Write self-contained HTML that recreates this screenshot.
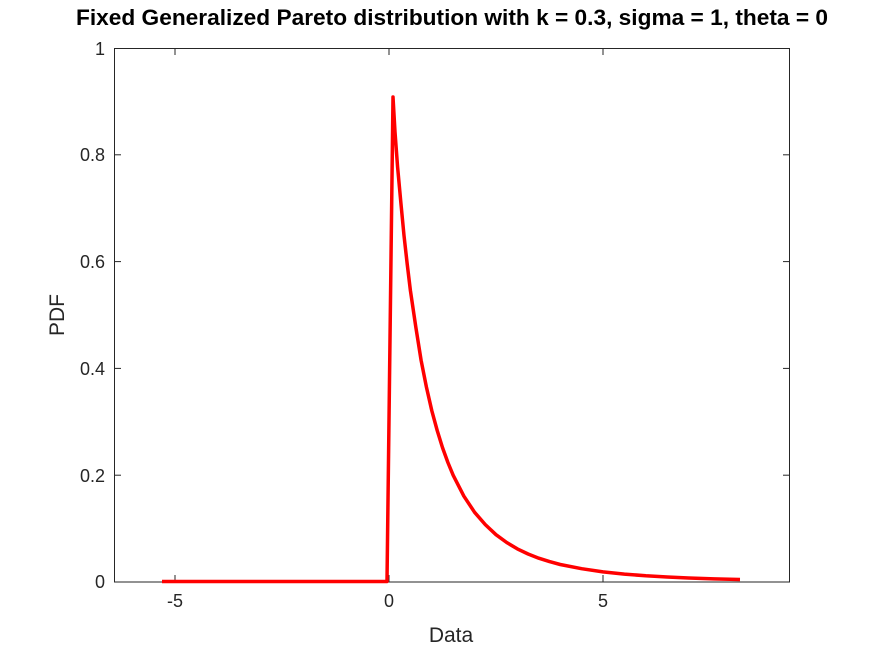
<!DOCTYPE html>
<html><head><style>body{margin:0;background:#fff}svg{display:block}text{font-family:"Liberation Sans",sans-serif;fill:#262626}</style></head>
<body>
<svg width="872" height="654" viewBox="0 0 872 654" xmlns="http://www.w3.org/2000/svg">
<rect width="872" height="654" fill="#fff"/>
<rect x="114.5" y="48.5" width="675" height="533.5" fill="none" stroke="#262626" stroke-width="1"/>
<g stroke="#262626" stroke-width="1">
<line x1="175" y1="582" x2="175" y2="575"/><line x1="389" y1="582" x2="389" y2="575"/><line x1="603" y1="582" x2="603" y2="575"/>
<line x1="175" y1="48" x2="175" y2="55"/><line x1="389" y1="48" x2="389" y2="55"/><line x1="603" y1="48" x2="603" y2="55"/>
<line x1="114" y1="475.2" x2="121" y2="475.2"/><line x1="114" y1="368.4" x2="121" y2="368.4"/><line x1="114" y1="261.6" x2="121" y2="261.6"/><line x1="114" y1="154.8" x2="121" y2="154.8"/>
<line x1="790" y1="475.2" x2="783" y2="475.2"/><line x1="790" y1="368.4" x2="783" y2="368.4"/><line x1="790" y1="261.6" x2="783" y2="261.6"/><line x1="790" y1="154.8" x2="783" y2="154.8"/>
</g>
<g font-size="18" text-anchor="middle">
<text x="175" y="607">-5</text><text x="389" y="607">0</text><text x="603" y="607">5</text>
</g>
<g font-size="18" text-anchor="end">
<text x="105" y="588">0</text><text x="105" y="482">0.2</text><text x="105" y="375">0.4</text><text x="105" y="268">0.6</text><text x="105" y="161">0.8</text><text x="105" y="55">1</text>
</g>
<text x="451" y="642" font-size="21" text-anchor="middle">Data</text>
<text transform="translate(64,315) rotate(-90)" font-size="21" text-anchor="middle">PDF</text>
<text x="76" y="25" font-size="22" font-weight="bold" textLength="752" lengthAdjust="spacingAndGlyphs" style="fill:#000">Fixed Generalized Pareto distribution with k = 0.3, sigma = 1, theta = 0</text>
<polyline fill="none" stroke="#ff0000" stroke-width="3.5" stroke-linejoin="round" points="162,581.5 387,581.5 393,97 395,132 397.6,167.1 400.8,202 404,235.5 407.2,264 410.4,290.5 415.8,327 421.1,360.3 426.4,387 431.8,410.7 437.2,430.5 442.5,447.6 447.9,462.5 453.2,475.3 463.9,496.2 474.6,512.3 485.3,524.6 496,534.7 506.7,542.5 517.4,548.9 528.1,554 538.8,558.2 549.5,561.6 560.2,564.5 581.6,568.7 603,571.9 624.4,574.1 645.8,575.8 667.2,577 688.6,578 714,578.9 740,579.5"/>
</svg>
</body></html>
